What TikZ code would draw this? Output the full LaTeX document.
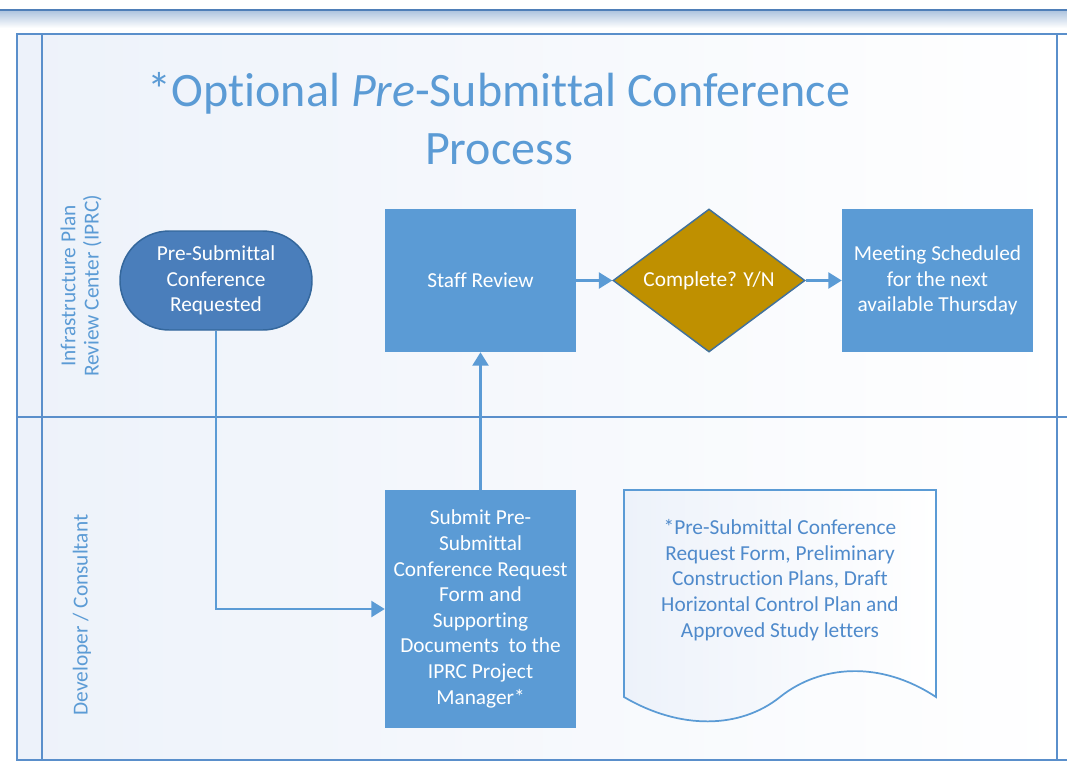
\documentclass[tikz,border=0pt]{standalone}
\usepackage{fontspec}
\setmainfont{Carlito}[Ligatures=NoCommon]
\usetikzlibrary{shapes.geometric,arrows.meta,positioning}

\definecolor{laneblue}{HTML}{5A8FCB}
\definecolor{barblue}{HTML}{4F7FB8}
\definecolor{boxblue}{HTML}{5B9BD5}
\definecolor{termblue}{HTML}{4A7EBB}
\definecolor{termedge}{HTML}{34679C}
\definecolor{decgold}{HTML}{BF9000}
\definecolor{decedge}{HTML}{41719C}
\definecolor{docblue}{HTML}{4F8ACB}
\definecolor{wash}{HTML}{EDF2FA}

\tikzset{
  boxtext/.style={font=\fontsize{16}{19.2}\selectfont},
  procbox/.style={rectangle, fill=boxblue, text=white, align=center, boxtext,
    minimum width=143.25pt, minimum height=107.25pt, inner sep=2pt},
  termbox/.style={rectangle, rounded corners=37pt, fill=termblue, draw=termedge,
    line width=1.1pt, text=white, align=center, boxtext,
    minimum width=144pt, minimum height=74.25pt},
  decbox/.style={diamond, aspect=1.343, fill=decgold, draw=decedge, line width=1.1pt,
    text=white, boxtext, inner sep=0pt, minimum width=144pt, minimum height=107.25pt},
  lanelabel/.style={rotate=90, text=boxblue, align=center,
    font=\fontsize{16}{17.4}\selectfont},
  laneline/.style={draw=laneblue, line width=1.5pt},
  flow/.style={draw=boxblue, line width=1.6pt, -{Triangle[length=10pt,width=12pt]}}
}

\begin{document}
\begin{tikzpicture}[x=0.75pt, y=-0.75pt]
  \useasboundingbox (0,0) rectangle (1067,768);
  % header bar
  \shade[top color=barblue!45, bottom color=white] (0,11) rectangle (1067,28);
  \draw[barblue, line width=2.2pt] (0,10) -- (1067,10);
  % swimlanes
  \shade[left color=wash, right color=white] (17,34) rectangle (1067,760);
  \fill[wash] (17,34) rectangle (42,760);
  \draw[laneline] (1067,34) -- (17,34) -- (17,760) -- (1067,760);
  \draw[laneline] (42,34) -- (42,760);
  \draw[laneline] (1057,34) -- (1057,760);
  \draw[laneline] (17,417) -- (1067,417);
  \node[lanelabel] (iprc) at (81,286) {Infrastructure Plan\\Review Center (IPRC)};
  \node[lanelabel] (dev) at (82,615) {Developer / Consultant};
  % title
  \node[text=boxblue, align=center, font=\fontsize{36}{43.5}\selectfont] (title) at (499,119)
    {*Optional \textit{Pre}-Submittal Conference\\Process};
  % shapes
  \node[termbox] (req) at (216,280.5) {Pre-Submittal\\Conference\\Requested};
  \node[procbox] (review) at (480.5,280.5) {Staff Review};
  \node[decbox, right=27pt of review] (check) {Complete? Y/N};
  \node[procbox, right=27pt of check] (meet) {Meeting Scheduled\\for the next\\available Thursday};
  \node[procbox, minimum height=178.5pt] (submit) at (480.5,609)
    {Submit Pre-\\Submittal\\Conference Request\\Form and\\Supporting\\Documents~ to the\\IPRC Project\\Manager*};
  % document
  \shade[left color=wash, right color=white] (624,490) -- (936,490) -- (936,697)
    .. controls (880,660) and (820,665) .. (780,697)
    .. controls (740,729) and (680,730) .. (624,697) -- cycle;
  \draw[boxblue, line width=1.3pt] (624,490) -- (936,490) -- (936,697)
    .. controls (880,660) and (820,665) .. (780,697)
    .. controls (740,729) and (680,730) .. (624,697) -- cycle;
  \node[text=docblue, align=center, boxtext] (docs) at (780,580)
    {*Pre-Submittal Conference\\Request Form, Preliminary\\Construction Plans, Draft\\Horizontal Control Plan and\\Approved Study letters};
  % connectors
  \draw[flow] (req.south) |- (submit.west);
  \draw[flow] (submit.north) -- (review.south);
  \draw[flow] (review.east) -- (check.west);
  \draw[flow] (check.east) -- (meet.west);
\end{tikzpicture}
\end{document}
